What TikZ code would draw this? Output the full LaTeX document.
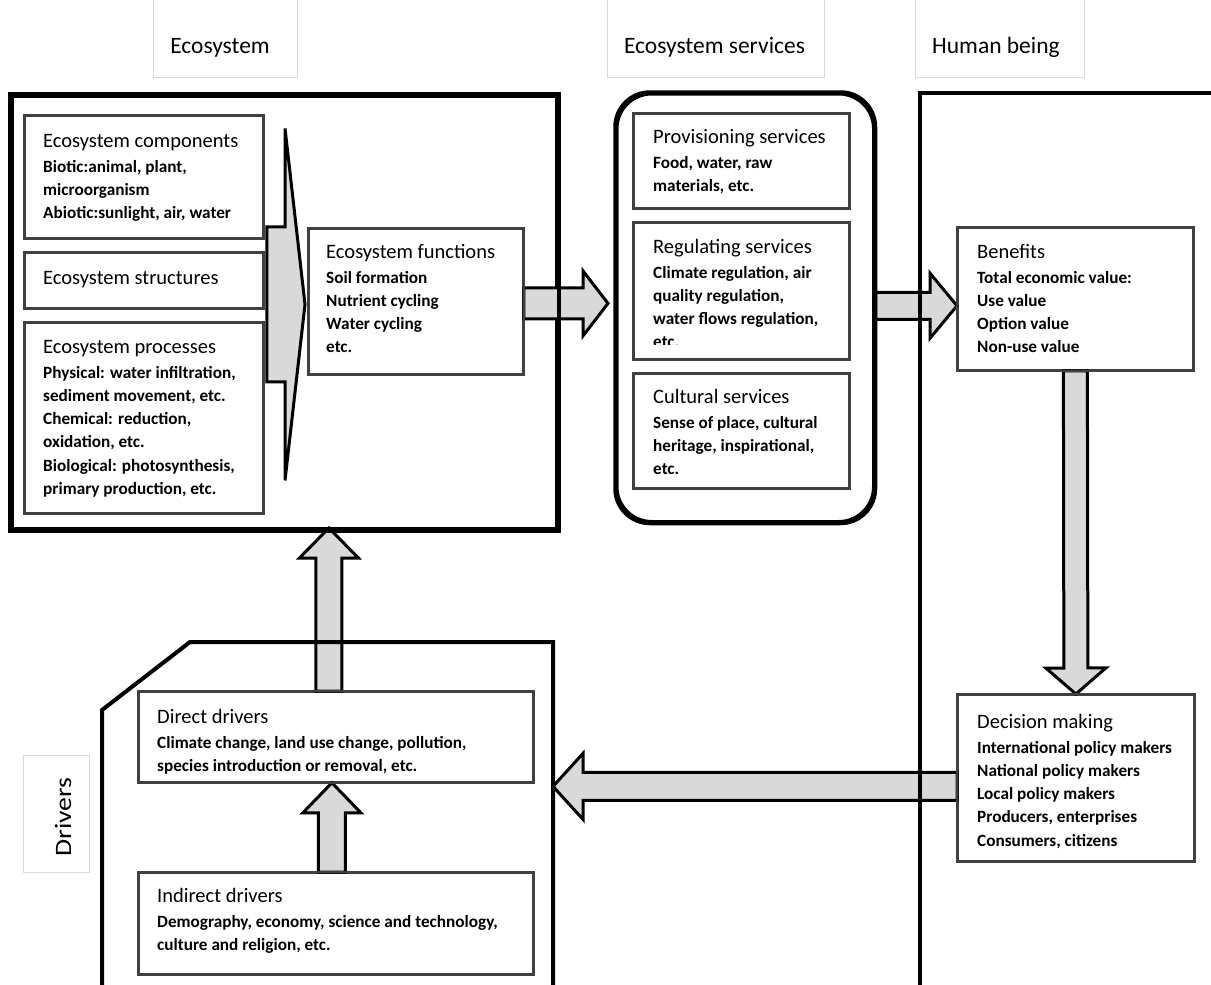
\documentclass[tikz,border=0pt]{standalone}
\usepackage{fontspec}
\setmainfont{Carlito}
\usetikzlibrary{calc}

\definecolor{arrowgray}{RGB}{217,217,217}

% fonts for box titles and body lines
\newcommand\ttlfont{\fontsize{20.5}{24}\selectfont}
\newcommand\bdyfont{\fontsize{17.2}{20}\selectfont\bfseries}
\newcommand\hd[1]{\hbox{\ttlfont #1}}
\newcommand\bl[1]{\hbox{\bdyfont #1}}
% a title followed by body lines, baseline = baseline of the title
\newcommand\blk[2]{\vtop{\baselineskip=23.3pt\lineskiplimit=-20pt\hd{#1}\kern1.7pt #2}}

% block arrow: #1 start, #2 tip, #3 shaft half width, #4 head half width, #5 head length
\newcommand\blockarrow[5]{%
  \coordinate (ba-s) at (#1);
  \coordinate (ba-e) at (#2);
  \coordinate (ba-h) at ($(ba-e)!#5!(ba-s)$);
  \draw[arrowbody] ($(ba-s)!#3!90:(ba-e)$) -- ($(ba-h)!#3!90:(ba-e)$)
    -- ($(ba-h)!#4!90:(ba-e)$) -- (ba-e) -- ($(ba-h)!#4!-90:(ba-e)$)
    -- ($(ba-h)!#3!-90:(ba-e)$) -- ($(ba-s)!#3!-90:(ba-e)$) -- cycle;}

\tikzset{
  container/.style={draw=black, line width=4pt, inner sep=0pt, anchor=north west},
  inbox/.style={draw=black!75, line width=1.8pt, fill=white, inner sep=0pt, anchor=north west},
  arrowbody/.style={draw=black, line width=3pt, fill=arrowgray, line join=miter},
  hdrbox/.style={draw=black!15, line width=1pt, inner sep=0pt},
  hdrtxt/.style={inner sep=0pt, anchor=base, font=\fontsize{23.5}{28}\selectfont},
  txt/.style={inner sep=0pt, anchor=base west, text=black},
}

\begin{document}
\begin{tikzpicture}[x=1pt,y=-1pt]
\useasboundingbox (0,0) rectangle (1211,985);
\clip (0,0) rectangle (1211,985);

% column headers
\node[hdrbox, minimum width=144pt, minimum height=90pt, anchor=south west] (hEco) at (153,78) {};
\node[hdrbox, minimum width=217pt, minimum height=90pt, anchor=south west] (hServ) at (607,78) {};
\node[hdrbox, minimum width=169pt, minimum height=90pt, anchor=south west] (hHum) at (915,78) {};
\node[hdrbox, minimum width=66pt, minimum height=117pt, anchor=north west] (hDrv) at (23,755) {};
\node[hdrtxt] (tEco) at (220,53) {Ecosystem};
\node[hdrtxt] (tServ) at (714.5,53) {Ecosystem services};
\node[hdrtxt] (tHum) at (996,53) {Human being};
\node[hdrtxt, rotate=90] (tDrv) at (71,817) {\scalebox{1.18}[1]{Drivers}};

% containers
\node[container, minimum width=545pt, minimum height=433pt] (eco) at (10,94) {};
\node[container, line width=3.5pt, rounded corners=35pt, minimum width=257pt, minimum height=428pt] (serv) at (615,92) {};
\coordinate (humNW) at (920,93);
\coordinate (drvNE) at (553,642);

% inner boxes
\node[inbox, minimum width=238pt, minimum height=122pt] (comp) at (24,115) {};
\node[inbox, minimum width=238pt, minimum height=55pt] (struct) at (24,252) {};
\node[inbox, minimum width=238pt, minimum height=190pt] (proc) at (24,322) {};
\node[inbox, minimum width=214pt, minimum height=145pt] (func) at (308,228) {};
\node[inbox, minimum width=215pt, minimum height=94pt] (prov) at (633,113) {};
\node[inbox, minimum width=215pt, minimum height=136pt] (reg) at (633,222) {};
\node[inbox, minimum width=215pt, minimum height=114pt] (cult) at (633,373) {};
\node[inbox, minimum width=235pt, minimum height=142pt] (ben) at (957,227) {};
\node[inbox, minimum width=236pt, minimum height=166pt] (dec) at (957,694) {};
\node[inbox, minimum width=394pt, minimum height=90pt] (direct) at (138,691) {};
\node[inbox, minimum width=394pt, minimum height=101pt] (indirect) at (138,872) {};

% block arrows
\blockarrow{$(struct.east |- func.west)+(3,3)$}{$(func.west)+(-3,3)$}{77.5pt}{176pt}{20pt}
\blockarrow{$(func.east)+(0,2)$}{$(func.east -| serv.west)+(-7,2)$}{15.5pt}{32.5pt}{25pt}
\blockarrow{$(serv.east)+(0,-2)$}{$(serv.east -| ben.west)+(0,-2)$}{13.5pt}{32.5pt}{27pt}
\blockarrow{ben.south}{dec.north}{12pt}{30pt}{26pt}
\blockarrow{$(dec.west)+(0,8.5)$}{$(drvNE |- dec.west)+(0,8.5)$}{14pt}{33pt}{30pt}
\blockarrow{$(direct.north)+(-7,0)$}{$(eco.south -| direct.north)+(-7,-3)$}{13pt}{29.5pt}{30pt}
\blockarrow{$(indirect.north)+(-4,0)$}{$(direct.south)+(-4,0)$}{13.5pt}{29pt}{30pt}

% container outlines drawn over the arrows
\draw[line width=4pt] (eco.north west) rectangle (eco.south east);
\draw[line width=3.5pt, rounded corners=35pt] (serv.north west) rectangle (serv.south east);
\draw[line width=4pt] (1230,93) -- (humNW) -- (920,1000);
\draw[line width=4pt] (102,1000) -- (102,710) -- (190,642) -- (drvNE) -- (553,1000);

% inner box outlines (over arrow ends)
\foreach \b in {comp,struct,proc,func,prov,reg,cult,ben,dec,direct,indirect}
  \draw[draw=black!75, line width=1.8pt] (\b.north west) rectangle (\b.south east);

% box texts
\node[txt] (xComp) at (43,147) {\blk{Ecosystem components}{\bl{Biotic:animal, plant,}\bl{microorganism}\bl{Abiotic:sunlight, air, water}}};
\node[txt] (xStruct) at (43,284) {\blk{Ecosystem structures}{}};
\node[txt] (xProc) at (43,353) {\blk{Ecosystem processes}{\bl{Physical: water infiltration,}\bl{sediment movement, etc.}\bl{Chemical: reduction,}\bl{oxidation, etc.}\bl{Biological: photosynthesis,}\bl{primary production, etc.}}};
\node[txt] (xFunc) at (326,258) {\blk{Ecosystem functions}{\bl{Soil formation}\bl{Nutrient cycling}\bl{Water cycling}\bl{etc.}}};
\node[txt] (xProv) at (653,143) {\blk{Provisioning services}{\bl{Food, water, raw}\bl{materials, etc.}}};
\begin{scope}
  \clip (633,222) rectangle (848,344);
  \node[txt] (xReg) at (653,253) {\blk{Regulating services}{\bl{Climate regulation, air}\bl{quality regulation,}\bl{water flows regulation,}\bl{etc.}}};
\end{scope}
\node[txt] (xCult) at (653,403) {\blk{Cultural services}{\bl{Sense of place, cultural}\bl{heritage, inspirational,}\bl{etc.}}};
\node[txt] (xBen) at (977,258) {\blk{Benefits}{\bl{Total economic value:}\bl{Use value}\bl{Option value}\bl{Non-use value}}};
\node[txt] (xDec) at (977,728) {\blk{Decision making}{\bl{International policy makers}\bl{National policy makers}\bl{Local policy makers}\bl{Producers, enterprises}\bl{Consumers, citizens}}};
\node[txt] (xDir) at (157,723) {\blk{Direct drivers}{\bl{Climate change, land use change, pollution,}\bl{species introduction or removal, etc.}}};
\node[txt] (xInd) at (157,902) {\blk{Indirect drivers}{\bl{Demography, economy, science and technology,}\bl{culture and religion, etc.}}};
\end{tikzpicture}
\end{document}
